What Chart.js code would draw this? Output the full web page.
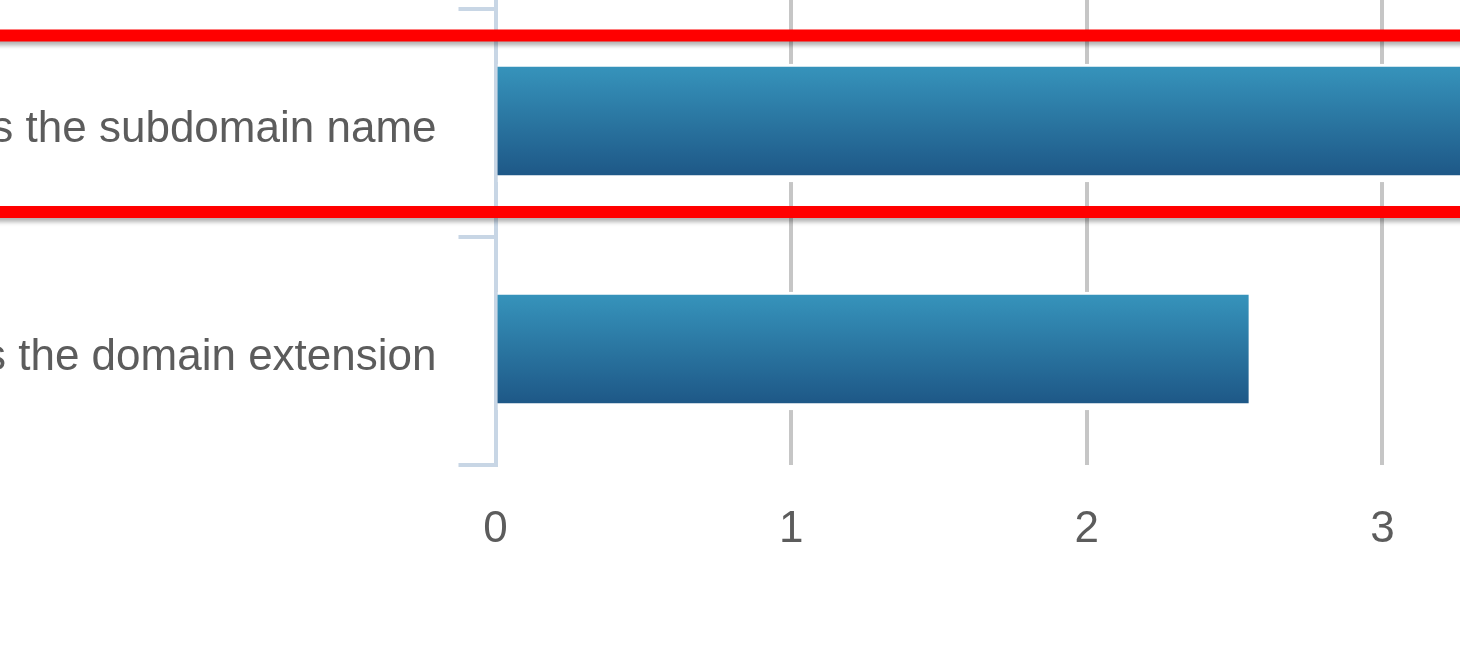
<!DOCTYPE html>
<html>
<head>
<meta charset="utf-8">
<script src="https://cdn.jsdelivr.net/npm/chart.js@4/dist/chart.umd.min.js"></script>
<style>
  html, body { margin: 0; padding: 0; background: #ffffff; overflow: hidden; }
  #wrap { position: relative; width: 1460px; height: 657px; overflow: hidden; background: #ffffff; }
  #inner { position: absolute; left: -600px; top: -219px; }
</style>
</head>
<body>
<div id="wrap"><div id="inner"><canvas id="c" width="2298" height="876"></canvas></div></div>
<script>
const categories = [
  "Keyword is the domain name",
  "Keyword is the subdomain name",
  "Keyword is the domain extension"
];
const values = [3.2, 3.6, 2.56];
const xTickValues = [0, 1, 2, 3, 4];
const highlightIndex = 1;

const FONT = '"Liberation Sans", Arial, Helvetica, sans-serif';

function barGradient(ctx) {
  const chart = ctx.chart;
  const ys = chart.scales.y;
  if (!ys || !chart.chartArea) return '#2a76a3';
  const c = ys.getPixelForValue(ctx.dataIndex) - 2;
  const g = chart.ctx.createLinearGradient(0, c - 54, 0, c + 54);
  g.addColorStop(0, '#3693bb');
  g.addColorStop(1, '#1e5887');
  return g;
}

const highlightPlugin = {
  id: 'highlightRow',
  afterDraw(chart) {
    const ys = chart.scales.y;
    const c = ys.getPixelForValue(highlightIndex);
    const ctx = chart.ctx;
    ctx.save();
    ctx.strokeStyle = '#ff0000';
    ctx.lineWidth = 12;
    ctx.shadowColor = 'rgba(0,0,0,0.3)';
    ctx.shadowBlur = 4;
    ctx.shadowOffsetY = 4;
    ctx.beginPath();
    ctx.moveTo(0, c - 87.5);
    ctx.lineTo(chart.width, c - 87.5);
    ctx.moveTo(0, c + 89);
    ctx.lineTo(chart.width, c + 89);
    ctx.stroke();
    ctx.restore();
  }
};

new Chart(document.getElementById('c'), {
  type: 'bar',
  data: {
    labels: categories,
    datasets: [{
      data: values,
      backgroundColor: barGradient,
      borderColor: '#ffffff',
      borderWidth: { top: 3, bottom: 7, right: 4, left: 0 },
      borderSkipped: 'start',
      barThickness: 118
    }]
  },
  options: {
    indexAxis: 'y',
    responsive: false,
    animation: false,
    events: [],
    layout: { padding: { top: 0, bottom: 92, left: 0, right: 20 } },
    plugins: {
      legend: { display: false },
      tooltip: { enabled: false },
      title: { display: false }
    },
    scales: {
      x: {
        type: 'linear',
        min: xTickValues[0],
        max: xTickValues[xTickValues.length - 1],
        afterBuildTicks(s) { s.ticks = xTickValues.map(v => ({ value: v })); },
        afterFit(s) { s.height = 100; s.paddingLeft = 0; s.paddingRight = 0; },
        border: { display: false },
        grid: {
          color: (c) => (c.tick && c.tick.value === 0) ? 'rgba(0,0,0,0)' : '#c6c6c6',
          lineWidth: 4,
          drawTicks: false
        },
        ticks: {
          padding: 38,
          color: '#5c5c5c',
          font: { family: FONT, size: 44 }
        }
      },
      y: {
        afterFit(s) { s.width = 1095.5; s.paddingTop = 0; s.paddingBottom = 0; },
        border: { display: true, color: '#c8d6e5', width: 4 },
        grid: {
          offset: true,
          drawOnChartArea: false,
          drawTicks: true,
          tickLength: 37,
          color: '#c8d6e5',
          lineWidth: 4
        },
        ticks: {
          padding: 22,
          labelOffset: 7,
          color: '#5c5c5c',
          font: { family: FONT, size: 44 }
        }
      }
    }
  },
  plugins: [highlightPlugin]
});
</script>
</body>
</html>
